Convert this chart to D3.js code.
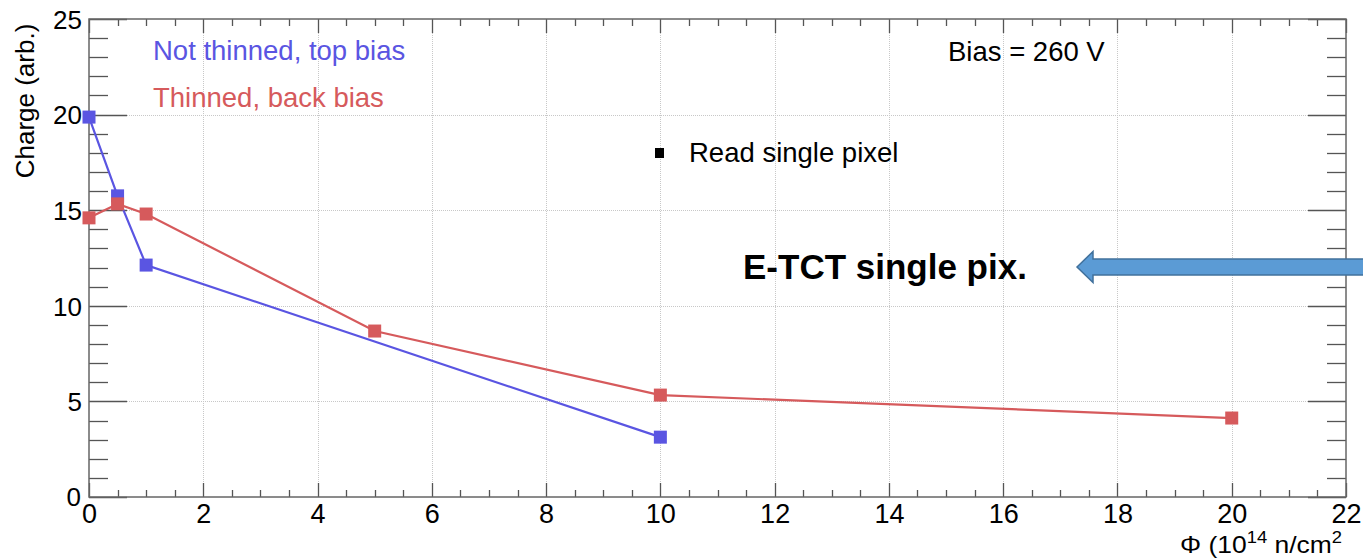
<!DOCTYPE html>
<html>
<head>
<meta charset="utf-8">
<script src="https://cdn.jsdelivr.net/npm/d3@7"></script>
<style>
  html, body { margin: 0; padding: 0; background: #fff; }
  svg { display: block; }
  text { font-family: "Liberation Sans", Arial, Helvetica, sans-serif; }
</style>
</head>
<body>
<svg id="chart" width="1363" height="560"></svg>
<script>
// Fluence in units of 10^14 n/cm^2
const fluenceTop = [0, 0.5, 1, 10];
const chargeTop = [19.87, 15.75, 12.13, 3.13];
const fluenceBack = [0, 0.5, 1, 5, 10, 20];
const chargeBack = [14.6, 15.33, 14.8, 8.68, 5.33, 4.13];

const xTicks = [0, 2, 4, 6, 8, 10, 12, 14, 16, 18, 20, 22];
const yTicks = [0, 5, 10, 15, 20, 25];

const seriesNames = ["Not thinned, top bias", "Thinned, back bias"];
const colorTop = "#5a55e2";
const colorBack = "#d65a5c";

const svg = d3.select("#chart");
const pLeft = 89, pRight = 1346, pTop = 19, pBottom = 497;

const x = d3.scaleLinear().domain([0, 22]).range([pLeft, pRight]);
const y = d3.scaleLinear().domain([0, 25]).range([pBottom, pTop]);

// grid
const grid = svg.append("g").attr("stroke", "#c8c8c8").attr("stroke-width", 1).attr("stroke-dasharray", "1,1");
grid.selectAll(".gx").data(xTicks.slice(1, -1)).join("line")
  .attr("x1", d => Math.round(x(d)) + 0.5).attr("x2", d => Math.round(x(d)) + 0.5)
  .attr("y1", pTop).attr("y2", pBottom);
grid.selectAll(".gy").data(yTicks.slice(1, -1)).join("line")
  .attr("y1", d => Math.round(y(d)) + 0.5).attr("y2", d => Math.round(y(d)) + 0.5)
  .attr("x1", pLeft).attr("x2", pRight);

// frame ticks (major + minor on all four sides)
const xMinor = d3.range(0, 22.01, 0.5);
const yMinor = d3.range(0, 25.01, 1);
const tk = svg.append("g").attr("stroke", "#555").attr("stroke-width", 1.3);
xMinor.forEach(v => {
  const major = Math.abs(v / 2 - Math.round(v / 2)) < 1e-6;
  const len = major ? 14 : 7;
  const px = Math.round(x(v)) + 0.5;
  tk.append("line").attr("x1", px).attr("x2", px).attr("y1", pBottom).attr("y2", pBottom - len);
  tk.append("line").attr("x1", px).attr("x2", px).attr("y1", pTop).attr("y2", pTop + len);
});
yMinor.forEach(v => {
  const major = v % 5 === 0;
  const len = major ? 38 : 19;
  const py = Math.round(y(v)) + 0.5;
  tk.append("line").attr("y1", py).attr("y2", py).attr("x1", pLeft).attr("x2", pLeft + len);
  tk.append("line").attr("y1", py).attr("y2", py).attr("x1", pRight).attr("x2", pRight - len);
});
svg.append("rect").attr("x", pLeft).attr("y", pTop).attr("width", pRight - pLeft).attr("height", pBottom - pTop)
  .attr("fill", "none").attr("stroke", "#666").attr("stroke-width", 1.5);

// tick labels
const axisX = d3.axisBottom(x).tickValues(xTicks).tickSize(0).tickPadding(0);
const gx = svg.append("g").attr("transform", `translate(0,${pBottom})`).call(axisX);
gx.select(".domain").remove();
gx.selectAll("text").attr("font-size", 27).attr("fill", "#000").attr("dy", "0.96em")
  .attr("font-family", "Liberation Sans, Arial, sans-serif");

const axisY = d3.axisLeft(y).tickValues(yTicks).tickSize(0).tickPadding(7);
const gy = svg.append("g").attr("transform", `translate(${pLeft},0)`).call(axisY);
gy.select(".domain").remove();
gy.selectAll("text").attr("font-size", 26).attr("fill", "#000").attr("dy", "0.36em")
  .attr("font-family", "Liberation Sans, Arial, sans-serif");
gy.selectAll(".tick").filter(d => d === 0).select("text").attr("dy", "0.34em").attr("x", -8);

// axis titles
svg.append("text").attr("transform", `translate(34,101) rotate(-90)`).attr("text-anchor", "middle")
  .attr("font-size", 26).text("Charge (arb.)");
const xt = svg.append("text").attr("transform", "translate(1342,553) scale(1.15,1)")
  .attr("text-anchor", "end").attr("font-size", 23);
xt.append("tspan").text("Φ (10");
xt.append("tspan").attr("dy", -10).attr("font-size", 16).text("14");
xt.append("tspan").attr("dy", 10).text(" n/cm");
xt.append("tspan").attr("dy", -10).attr("font-size", 16).text("2");

// series
const series = [
  { xs: fluenceTop, ys: chargeTop, color: colorTop },
  { xs: fluenceBack, ys: chargeBack, color: colorBack }
];
const line = d3.line().x(d => x(d[0])).y(d => y(d[1]));
series.forEach(s => {
  const pts = s.xs.map((v, i) => [v, s.ys[i]]);
  svg.append("path").datum(pts).attr("d", line).attr("fill", "none")
    .attr("stroke", s.color).attr("stroke-width", 2.2);
  svg.append("g").selectAll("rect").data(pts).join("rect")
    .attr("x", d => x(d[0]) - 6.5).attr("y", d => y(d[1]) - 6.5)
    .attr("width", 13).attr("height", 13).attr("fill", s.color);
});

// legend / annotations
svg.append("text").attr("x", 153).attr("y", 60).attr("font-size", 27.5).attr("fill", colorTop).text(seriesNames[0]);
svg.append("text").attr("x", 153).attr("y", 107).attr("font-size", 27.5).attr("fill", colorBack).text(seriesNames[1]);
svg.append("text").attr("x", 948).attr("y", 61).attr("font-size", 27.5).attr("fill", "#000").text("Bias = 260 V");
svg.append("rect").attr("x", 655).attr("y", 148).attr("width", 9).attr("height", 10).attr("fill", "#000");
svg.append("text").attr("x", 689).attr("y", 162).attr("font-size", 27.5).attr("fill", "#000").text("Read single pixel");

svg.append("text").attr("x", 743).attr("y", 279).attr("font-size", 35).attr("font-weight", "bold")
  .attr("font-family", "Lato, 'Open Sans', sans-serif").attr("fill", "#000").text("E-TCT single pix.");

// block arrow pointing left
const ay = 267;
const arrow = [[1077, ay], [1093, ay - 15.5], [1093, ay - 8], [1366, ay - 8], [1366, ay + 8], [1093, ay + 8], [1093, ay + 15.5]];
svg.append("path").attr("d", d3.line()(arrow) + "Z").attr("fill", "#5b9bd5")
  .attr("stroke", "#41719c").attr("stroke-width", 1.5);
</script>
</body>
</html>
